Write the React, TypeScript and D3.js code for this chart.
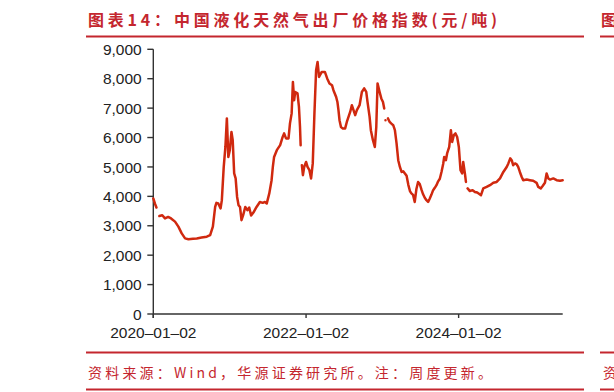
import React from "react";
import * as d3 from "d3";

const TITLE = "图表14：中国液化天然气出厂价格指数(元/吨)";
const SOURCE = "资料来源：Wind，华源证券研究所。注：周度更新。";
const X_TICKS = ["2020-01-02", "2022-01-02", "2024-01-02"];
const Y_TICKS = [0, 1000, 2000, 3000, 4000, 5000, 6000, 7000, 8000, 9000];

const DATES = [
  "2020-01-02","2020-01-10","2020-01-17","2020-01-24","2020-01-31","2020-02-14","2020-02-27","2020-03-13","2020-03-27","2020-04-15",
  "2020-05-01","2020-05-17","2020-06-02","2020-06-18","2020-07-10","2020-07-28","2020-08-20","2020-09-14","2020-09-30","2020-10-13",
  "2020-10-24","2020-10-30","2020-11-08","2020-11-19","2020-11-25","2020-12-04","2020-12-12","2020-12-19","2020-12-26","2021-01-02",
  "2021-01-10","2021-01-16","2021-01-23","2021-01-30","2021-02-06","2021-02-13","2021-02-20","2021-02-27","2021-03-07","2021-03-17",
  "2021-03-27","2021-04-05","2021-04-14","2021-04-25","2021-05-10","2021-05-26","2021-06-09","2021-06-19","2021-06-28","2021-07-10",
  "2021-07-21","2021-07-27","2021-08-02","2021-08-15","2021-08-31","2021-09-12","2021-09-19","2021-09-28","2021-10-10","2021-10-17",
  "2021-10-25","2021-10-31","2021-11-06","2021-11-11","2021-11-22","2021-11-29","2021-12-04","2021-12-07","2021-12-10","2021-12-13",
  "2021-12-18","2021-12-24","2022-01-02","2022-01-09","2022-01-18","2022-01-26","2022-02-03","2022-02-11","2022-02-19","2022-02-26",
  "2022-03-05","2022-03-18","2022-04-02","2022-04-13","2022-04-24","2022-05-06","2022-05-13","2022-05-26","2022-06-01","2022-06-06",
  "2022-06-11","2022-06-18","2022-06-27","2022-07-08","2022-07-16","2022-07-24","2022-08-01","2022-08-09","2022-08-17","2022-08-25",
  "2022-09-02","2022-09-15","2022-09-26","2022-10-07","2022-10-17","2022-10-23","2022-11-02","2022-11-08","2022-11-18","2022-11-27",
  "2022-12-04","2022-12-10","2022-12-20","2022-12-28","2023-01-05","2023-01-11","2023-01-14","2023-01-17","2023-01-22","2023-01-29",
  "2023-02-06","2023-02-13","2023-02-23","2023-03-03","2023-03-11","2023-03-19","2023-03-27","2023-04-04","2023-04-12","2023-04-20",
  "2023-04-28","2023-05-06","2023-05-14","2023-05-21","2023-05-29","2023-06-06","2023-06-14","2023-06-22","2023-06-30","2023-07-09",
  "2023-07-16","2023-07-24","2023-08-01","2023-08-09","2023-08-17","2023-08-25","2023-09-02","2023-09-10","2023-09-18","2023-09-26",
  "2023-10-04","2023-10-12","2023-10-20","2023-10-25","2023-11-02","2023-11-08","2023-11-18","2023-11-26","2023-12-02","2023-12-10",
  "2023-12-18","2023-12-26","2024-01-03","2024-01-11","2024-01-19","2024-01-24","2024-02-01","2024-02-06","2024-02-10","2024-02-14",
  "2024-02-25","2024-03-09","2024-03-20","2024-03-31","2024-04-10","2024-04-18","2024-04-29","2024-05-15","2024-05-31","2024-06-16",
  "2024-07-02","2024-07-18","2024-08-03","2024-08-19","2024-08-27","2024-09-05","2024-09-12","2024-09-19","2024-09-28","2024-10-06",
  "2024-10-13","2024-10-21","2024-10-30","2024-11-06","2024-11-23","2024-12-08","2024-12-24","2025-01-09","2025-01-17","2025-01-29",
  "2025-02-07","2025-02-18","2025-02-26","2025-03-06","2025-03-14","2025-03-30","2025-04-15","2025-05-01","2025-05-14"
];

const VALUES: (number | null)[] = [
  3930,3750,3620,null,3330,3360,3250,3300,3250,3140,
  2970,2740,2570,2540,2560,2570,2600,2630,2680,2970,
  3640,3780,3760,3590,3870,5000,5680,6650,5340,5570,
  6190,5910,4780,4610,3980,3700,3640,3190,3360,3640,
  3530,3620,3350,3450,3640,3810,3780,3810,3760,4100,
  4550,5000,5340,5570,5740,6020,6140,5970,5970,6480,
  6820,7890,7270,7550,7500,7040,6360,5740,null,5060,
  4720,5000,5170,5000,4890,4610,5120,6820,8290,8570,
  8060,8230,8230,8010,7840,7780,7610,7380,7210,6930,
  6590,6360,6310,6310,6530,6700,6870,7100,6930,6760,
  6930,7100,7550,7670,7550,7210,6700,6250,5910,5680,
  6360,7840,7550,7330,7210,6990,null,6590,null,6650,
  6530,6480,6420,6250,5800,5230,5000,4830,4850,4780,
  4700,4400,4180,4100,4050,3810,4250,4490,4420,4210,
  4070,3950,3870,3810,3930,4060,4210,4290,4380,4510,
  4600,4830,5100,5340,5230,5460,5680,6250,5850,6080,
  6140,6020,5680,4890,4780,5170,4780,4490,null,4270,
  4180,4210,4150,4130,4080,4040,4270,4320,4380,4460,
  4490,4610,4830,5000,5120,5290,5230,5060,5120,5090,
  5000,4830,4660,4550,4570,4550,4530,4460,4320,4270,
  4350,4460,4780,4610,4570,4610,4550,4530,4550
];

const W = 614;
const H = 392;
const RED = "#C4262E";
const LINE = "#D0290F";
const AX = "#333333";
const FONT = "'Liberation Sans', Arial, Helvetica, sans-serif";
const CJK = "'Noto Sans CJK SC', sans-serif";

export default function App() {
  const parse = d3.timeParse("%Y-%m-%d");
  const pts = DATES.map((d, i) => ({ date: parse(d) as Date, value: VALUES[i] }));
  const x = d3
    .scaleTime()
    .domain([parse(DATES[0]) as Date, parse(DATES[DATES.length - 1]) as Date])
    .range([153.3, 562.7]);
  const y = d3.scaleLinear().domain([0, 9000]).range([314, 49.3]);
  const line = d3
    .line<{ date: Date; value: number | null }>()
    .defined((d) => d.value !== null)
    .x((d) => x(d.date))
    .y((d) => y(d.value as number));
  const fmt = d3.format(",");
  const x0 = x.range()[0];
  const y0 = y(0);

  return (
    <svg
      width={W}
      height={H}
      viewBox={`0 0 ${W} ${H}`}
      style={{ position: "absolute", left: 0, top: 0, background: "#fff" }}
    >
      <rect x={0} y={0} width={W} height={H} fill="#fff" />
      {/* title */}
      <text
        x={88}
        y={26}
        fill={RED}
        fontFamily={CJK}
        fontWeight={700}
        fontSize={16}
        textLength={409}
        lengthAdjust="spacing"
      >
        {TITLE}
      </text>
      <line x1={86} x2={584} y1={36.5} y2={36.5} stroke={RED} strokeWidth={2} />
      {/* neighbour panel fragments at right edge */}
      <text x={601} y={26} fill={RED} fontFamily={CJK} fontWeight={700} fontSize={16}>
        图
      </text>
      <line x1={600} x2={614} y1={36.5} y2={36.5} stroke={RED} strokeWidth={2} />
      <line x1={600} x2={614} y1={352.5} y2={352.5} stroke={RED} strokeWidth={2} />
      <line x1={600} x2={614} y1={389.5} y2={389.5} stroke={RED} strokeWidth={2} />
      <text x={603} y={378} fill={RED} fontFamily={CJK} fontSize={14}>
        资
      </text>

      {/* y axis */}
      <line x1={x0} x2={x0} y1={y(9000)} y2={y0 + 4} stroke={AX} strokeWidth={1.4} />
      {Y_TICKS.map((t) => (
        <g key={t}>
          <line x1={x0 - 6} x2={x0} y1={y(t)} y2={y(t)} stroke={AX} strokeWidth={1.4} />
          <text
            x={141.7}
            y={y(t)}
            dy="0.36em"
            textAnchor="end"
            fontFamily={FONT}
            fontSize={15.5}
            fill="#222"
          >
            {fmt(t)}
          </text>
        </g>
      ))}
      {/* x axis */}
      <line x1={x0} x2={x.range()[1]} y1={y0} y2={y0} stroke={AX} strokeWidth={1.4} />
      {X_TICKS.map((t) => {
        const xp = x(parse(t) as Date);
        return (
          <g key={t}>
            <line x1={xp} x2={xp} y1={y0} y2={y0 + 4} stroke={AX} strokeWidth={1.4} />
            <text
              x={xp}
              y={338}
              textAnchor="middle"
              fontFamily={FONT}
              fontSize={15.5}
              fill="#222"
            >
              {t.replace(/-/g, "–")}
            </text>
          </g>
        );
      })}

      {/* series */}
      <path
        d={line(pts) || ""}
        fill="none"
        stroke={LINE}
        strokeWidth={2.5}
        strokeLinejoin="round"
        strokeLinecap="round"
      />

      {/* footer */}
      <line x1={86} x2={584} y1={352.5} y2={352.5} stroke={RED} strokeWidth={2} />
      <text
        x={88}
        y={378}
        fill={RED}
        fontFamily={CJK}
        fontSize={14}
        textLength={404}
        lengthAdjust="spacing"
      >
        {SOURCE}
      </text>
      <line x1={86} x2={584} y1={389.5} y2={389.5} stroke={RED} strokeWidth={2} />
    </svg>
  );
}
